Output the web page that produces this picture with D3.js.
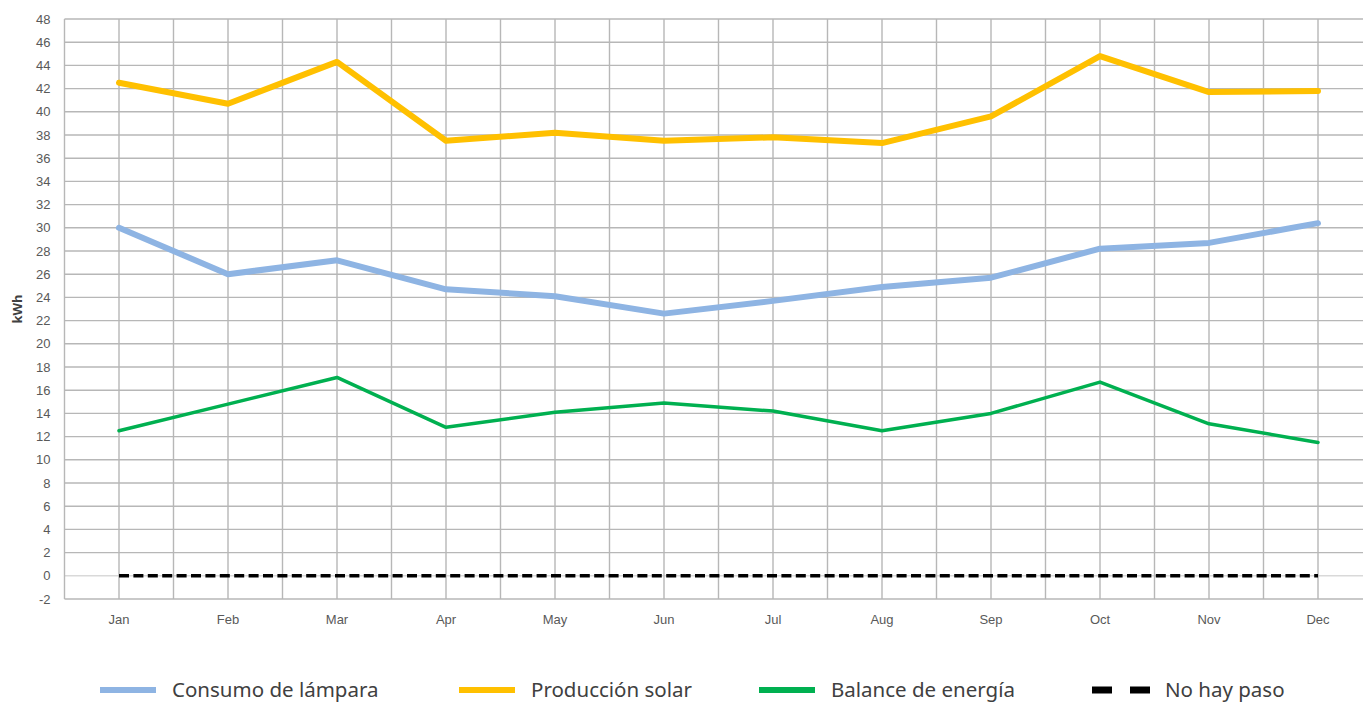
<!DOCTYPE html>
<html>
<head>
<meta charset="utf-8">
<script src="https://cdn.jsdelivr.net/npm/d3@7"></script>
<style>
  body { margin: 0; background: #fff; }
  svg { display: block; font-family: "Noto Sans", sans-serif; }
  .tick text { fill: #595959; }
</style>
</head>
<body>
<div id="chart"></div>
<script>
const width = 1363;
const height = 702;

// data
const months = ["Jan", "Feb", "Mar", "Apr", "May", "Jun", "Jul", "Aug", "Sep", "Oct", "Nov", "Dec"];
const consumo = [30.0, 26.0, 27.2, 24.7, 24.1, 22.6, 23.7, 24.9, 25.7, 28.2, 28.7, 30.4];
const produccion = [42.5, 40.7, 44.3, 37.5, 38.2, 37.5, 37.8, 37.3, 39.6, 44.8, 41.7, 41.8];
const balance = [12.5, 14.8, 17.1, 12.8, 14.1, 14.9, 14.2, 12.5, 14.0, 16.7, 13.1, 11.5];
const noPaso = [0, 0, 0, 0, 0, 0, 0, 0, 0, 0, 0, 0];
const yTicks = d3.range(-2, 49, 2);

const series = [
    { name: "Consumo de lámpara", values: consumo, color: "#8eb4e3", w: 6 },
    { name: "Producción solar", values: produccion, color: "#ffc000", w: 6 },
    { name: "Balance de energía", values: balance, color: "#00b050", w: 3.5 },
    { name: "No hay paso", values: noPaso, color: "#000000", w: 3.5, dash: "10,4.4" }
];

const plotLeft = 64.5, plotTop = 19, plotBottom = 599;
const band = 109;

const x = d3.scaleBand()
    .domain(months)
    .range([plotLeft, plotLeft + band * months.length]);

const y = d3.scaleLinear()
    .domain([-2, 48])
    .range([plotBottom, plotTop]);

const svg = d3.select("#chart").append("svg")
    .attr("width", width)
    .attr("height", height);

// horizontal grid
svg.append("g")
    .selectAll("line")
    .data(yTicks)
    .enter().append("line")
    .attr("x1", plotLeft).attr("x2", width)
    .attr("y1", d => y(d)).attr("y2", d => y(d))
    .attr("stroke", d => d === 0 ? "#d9d9d9" : "#b7b7b7")
    .attr("stroke-width", 1.4);

// vertical grid: band edges and centres
const vLines = [];
months.forEach(m => { vLines.push(x(m)); vLines.push(x(m) + x.bandwidth() / 2); });
svg.append("g")
    .selectAll("line")
    .data(vLines)
    .enter().append("line")
    .attr("x1", d => d).attr("x2", d => d)
    .attr("y1", plotTop).attr("y2", plotBottom)
    .attr("stroke", "#b7b7b7")
    .attr("stroke-width", 1.4);

// y axis labels (plain hyphen for negatives, like the original)
const yAxis = svg.append("g")
    .attr("transform", `translate(${plotLeft},0)`)
    .call(d3.axisLeft(y).tickValues(yTicks).tickFormat(d => String(d)).tickSize(0).tickPadding(14));
yAxis.select(".domain").remove();
yAxis.selectAll("text").style("font-size", "13px");

// x axis labels
const xAxis = svg.append("g")
    .attr("transform", `translate(0,${plotBottom})`)
    .call(d3.axisBottom(x).tickSize(0).tickPadding(16));
xAxis.select(".domain").remove();
xAxis.selectAll("text").style("font-size", "13px");

svg.append("text")
    .attr("transform", "translate(22,309) rotate(-90)")
    .attr("text-anchor", "middle")
    .attr("font-size", "13px")
    .attr("font-weight", "bold")
    .attr("fill", "#404040")
    .text("kWh");

const line = d3.line()
    .x((d, i) => x(months[i]) + x.bandwidth() / 2)
    .y(d => y(d));

[series[3], series[2], series[0], series[1]].forEach(s => {
    svg.append("path")
        .datum(s.values)
        .attr("d", line)
        .attr("fill", "none")
        .attr("stroke", s.color)
        .attr("stroke-width", s.w)
        .attr("stroke-linejoin", "round")
        .attr("stroke-linecap", s.dash ? "butt" : "round")
        .attr("stroke-dasharray", s.dash || null);
});

// legend
const legendX = [100, 459, 759, 1092];
const legend = svg.append("g");
series.forEach((s, i) => {
    const g = legend.append("g").attr("transform", `translate(${legendX[i]},690)`);
    if (s.dash) {
        g.append("line").attr("x1", 0).attr("x2", 20).attr("stroke", "#000").attr("stroke-width", 7);
        g.append("line").attr("x1", 38).attr("x2", 58).attr("stroke", "#000").attr("stroke-width", 7);
        g.append("text").attr("x", 73).attr("dy", "0.35em")
            .attr("font-size", "20.5px").attr("fill", "#404040").text(s.name);
    } else {
        g.append("line").attr("x1", 0).attr("x2", 56).attr("stroke", s.color).attr("stroke-width", 6);
        g.append("text").attr("x", 72).attr("dy", "0.35em")
            .attr("font-size", "20.5px").attr("fill", "#404040").text(s.name);
    }
});
</script>
</body>
</html>
